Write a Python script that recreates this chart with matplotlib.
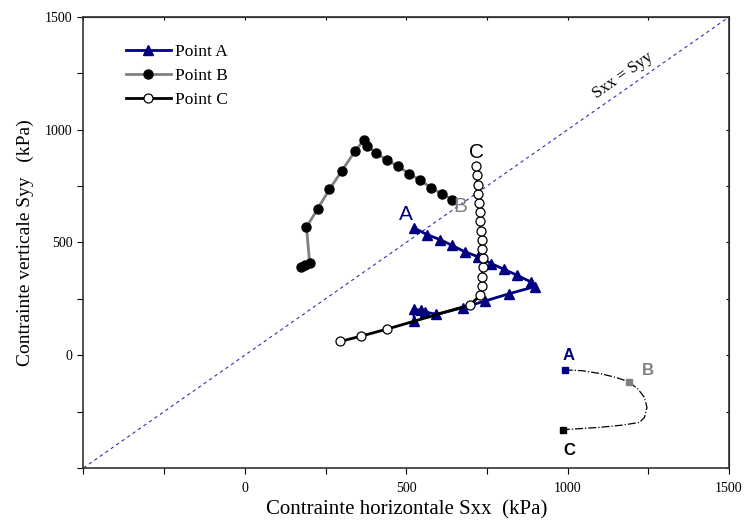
import matplotlib
matplotlib.use("Agg")
import matplotlib.pyplot as plt
from matplotlib.ticker import MultipleLocator, FixedLocator

# Stress paths (kPa)
a_sxx = [524, 524, 545, 559, 593, 676, 743, 820, 898, 888, 844, 803, 764, 722, 681, 642, 604, 564, 524]
a_syy = [152, 204, 199, 192, 181, 211, 240, 273, 304, 324, 354, 381, 406, 437, 459, 487, 513, 535, 565]

b_sxx = [175, 187, 201, 191, 226, 262, 301, 341, 368, 379, 406, 441, 475, 509, 543, 577, 611, 643]
b_syy = [391, 398, 407, 568, 650, 735, 819, 904, 953, 929, 897, 864, 838, 805, 776, 743, 714, 690]

c_sxx = [296, 361, 439, 697, 730, 734, 736, 737, 737, 736, 734, 732, 730, 728, 725, 723, 721, 719, 717]
c_syy = [61, 85, 115, 223, 265, 307, 348, 389, 429, 470, 512, 553, 593, 634, 676, 715, 757, 798, 838]

# Sketch of the contour locating points A, B, C
sketch_x = [991, 1047, 1099, 1151, 1189, 1218, 1238, 1246, 1238, 1223, 1171, 1099, 1037, 985]
sketch_y = [-65, -69, -81, -99, -118, -150, -187, -232, -276, -298, -310, -320, -326, -330]
sketch_pts = {"A": (991, -65), "B": (1189, -118), "C": (985, -330)}

x_major = [0, 500, 1000, 1500]
y_major = [0, 500, 1000, 1500]

navy = "#000080"
grey = "#808080"

fig = plt.figure(figsize=(7.45, 5.24), dpi=100)
ax = fig.add_axes([0.112, 0.107, 0.8665, 0.8606])
ax.set_xlim(-500, 1500)
ax.set_ylim(-500, 1500)

serif = "Liberation Serif"

# Sxx = Syy reference line
ax.plot([-500, 1500], [-500, 1500], color="#2f2fb0", lw=0.8, ls=(0, (3, 3)), zorder=1)
ax.text(1170, 1240, "Sxx = Syy", rotation=35, fontsize=12, family=serif,
        ha="center", va="center", rotation_mode="anchor")

ax.plot(a_sxx, a_syy, color=navy, lw=2, marker="^", ms=7, label="Point A", zorder=3)
ax.plot(b_sxx, b_syy, color=grey, lw=2, marker="o", ms=6.5,
        mfc="black", mec="black", label="Point B", zorder=2)
ax.plot(c_sxx, c_syy, color="black", lw=2, marker="o", ms=6.5,
        mfc="white", mec="black", mew=0.9, label="Point C", zorder=4)

ax.text(498, 624, "A", color=navy, fontsize=15, family="Liberation Sans", ha="center", va="center")
ax.text(666, 658, "B", color=grey, fontsize=15, family="Liberation Sans", ha="center", va="center")
ax.text(717, 897, "C", color="black", fontsize=15, family="Liberation Sans", ha="center", va="center")

# Contour sketch
ax.plot(sketch_x, sketch_y, color="black", lw=0.9, ls="-.", zorder=2)
for name, col in (("A", navy), ("B", grey), ("C", "black")):
    px, py = sketch_pts[name]
    ax.plot([px], [py], marker="s", ms=4.5, color=col, zorder=3)
ax.text(1004, -3, "A", color=navy, fontsize=12, fontweight="bold",
        family="Liberation Sans", ha="center", va="center")
ax.text(1249, -69, "B", color=grey, fontsize=12, fontweight="bold",
        family="Liberation Sans", ha="center", va="center")
ax.text(1004, -423, "C", color="black", fontsize=12, fontweight="bold",
        family="Liberation Sans", ha="center", va="center")

# Axes styling
ax.xaxis.set_major_locator(FixedLocator(x_major))
ax.yaxis.set_major_locator(FixedLocator(y_major))
ax.xaxis.set_minor_locator(MultipleLocator(250))
ax.yaxis.set_minor_locator(MultipleLocator(250))
ax.tick_params(which="both", direction="out", length=4, width=0.8,
               labelsize=10, top=False, right=False)
for lab in ax.get_xticklabels() + ax.get_yticklabels():
    lab.set_family(serif)
ax.tick_params(axis="x", pad=6)
ax.tick_params(axis="y", pad=4)

# inward ticks on top and right spines
ax2 = ax.secondary_xaxis("top")
ax2.xaxis.set_major_locator(MultipleLocator(250))
ax2.tick_params(direction="in", length=2.5, width=0.8, labeltop=False)
ax3 = ax.secondary_yaxis("right")
ax3.yaxis.set_major_locator(MultipleLocator(250))
ax3.tick_params(direction="in", length=2.5, width=0.8, labelright=False)

for sp in ax.spines.values():
    sp.set_linewidth(1.2)
    sp.set_color("#333333")

ax.set_xlabel("Contrainte horizontale Sxx  (kPa)", fontsize=15, family=serif, labelpad=4)
ax.set_ylabel("Contrainte verticale Syy   (kPa)", fontsize=14, family=serif, labelpad=8)

leg = ax.legend(loc="upper left", bbox_to_anchor=(0.055, 0.955), frameon=False,
                prop={"family": serif, "size": 12.5}, handlelength=2.6,
                handletextpad=0.25, labelspacing=0.45, borderaxespad=0)

fig.savefig("out.png", dpi=100)
